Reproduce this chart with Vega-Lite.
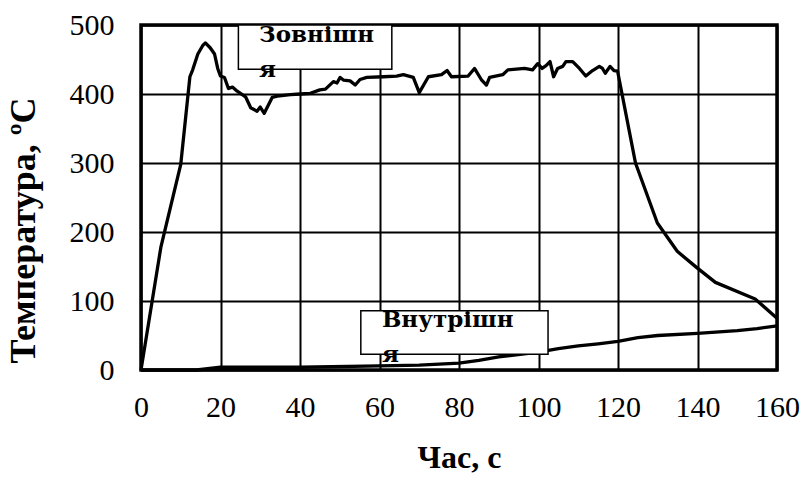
{
  "$schema": "https://vega.github.io/schema/vega-lite/v6.json",
  "width": 636,
  "height": 345,
  "autosize": {"type": "none"},
  "padding": {"left": 141, "top": 25, "right": 26, "bottom": 120},
  "background": "white",
  "config": {
    "font": "Liberation Serif, DejaVu Serif",
    "view": {"stroke": "black", "strokeWidth": 3.5},
    "axis": {
      "labelFont": "Liberation Serif, DejaVu Serif",
      "labelFontSize": 30,
      "labelColor": "black",
      "titleFont": "Liberation Serif, DejaVu Serif",
      "titleFontSize": 32,
      "titleFontWeight": "bold",
      "titleColor": "black",
      "ticks": false,
      "domain": false,
      "grid": true,
      "gridColor": "black",
      "gridWidth": 2,
      "gridOpacity": 1,
      "labelFlush": false,
      "labelOverlap": false
    }
  },
  "datasets": {
    "temps": [
      {"series": "Зовнішня", "t": 0, "v": 0},
      {"series": "Зовнішня", "t": 5, "v": 178},
      {"series": "Зовнішня", "t": 10, "v": 298},
      {"series": "Зовнішня", "t": 12.3, "v": 425},
      {"series": "Зовнішня", "t": 13, "v": 435},
      {"series": "Зовнішня", "t": 14.3, "v": 458},
      {"series": "Зовнішня", "t": 15.5, "v": 470},
      {"series": "Зовнішня", "t": 16.2, "v": 474},
      {"series": "Зовнішня", "t": 17.4, "v": 467},
      {"series": "Зовнішня", "t": 18.5, "v": 458},
      {"series": "Зовнішня", "t": 19.3, "v": 437},
      {"series": "Зовнішня", "t": 20, "v": 426},
      {"series": "Зовнішня", "t": 21, "v": 424},
      {"series": "Зовнішня", "t": 22, "v": 408},
      {"series": "Зовнішня", "t": 23, "v": 410},
      {"series": "Зовнішня", "t": 24.2, "v": 404},
      {"series": "Зовнішня", "t": 26.3, "v": 396},
      {"series": "Зовнішня", "t": 27.6, "v": 380},
      {"series": "Зовнішня", "t": 29.2, "v": 375},
      {"series": "Зовнішня", "t": 30, "v": 381},
      {"series": "Зовнішня", "t": 31, "v": 372},
      {"series": "Зовнішня", "t": 33, "v": 395},
      {"series": "Зовнішня", "t": 34.3, "v": 397},
      {"series": "Зовнішня", "t": 37.6, "v": 399},
      {"series": "Зовнішня", "t": 40, "v": 400},
      {"series": "Зовнішня", "t": 42.6, "v": 401},
      {"series": "Зовнішня", "t": 45, "v": 406},
      {"series": "Зовнішня", "t": 46.4, "v": 407},
      {"series": "Зовнішня", "t": 48.4, "v": 418},
      {"series": "Зовнішня", "t": 49.3, "v": 416},
      {"series": "Зовнішня", "t": 50.1, "v": 424},
      {"series": "Зовнішня", "t": 51, "v": 420},
      {"series": "Зовнішня", "t": 52.6, "v": 419},
      {"series": "Зовнішня", "t": 53.9, "v": 413},
      {"series": "Зовнішня", "t": 55.1, "v": 421},
      {"series": "Зовнішня", "t": 56.8, "v": 424},
      {"series": "Зовнішня", "t": 61, "v": 425},
      {"series": "Зовнішня", "t": 64.3, "v": 426},
      {"series": "Зовнішня", "t": 66, "v": 428},
      {"series": "Зовнішня", "t": 68.5, "v": 424},
      {"series": "Зовнішня", "t": 70, "v": 402},
      {"series": "Зовнішня", "t": 72.3, "v": 425},
      {"series": "Зовнішня", "t": 75.6, "v": 428},
      {"series": "Зовнішня", "t": 77, "v": 434},
      {"series": "Зовнішня", "t": 78.1, "v": 425},
      {"series": "Зовнішня", "t": 82.3, "v": 426},
      {"series": "Зовнішня", "t": 83.9, "v": 437},
      {"series": "Зовнішня", "t": 85.6, "v": 421},
      {"series": "Зовнішня", "t": 86.9, "v": 413},
      {"series": "Зовнішня", "t": 87.7, "v": 424},
      {"series": "Зовнішня", "t": 91, "v": 428},
      {"series": "Зовнішня", "t": 92.3, "v": 435},
      {"series": "Зовнішня", "t": 94.4, "v": 436},
      {"series": "Зовнішня", "t": 96.5, "v": 437},
      {"series": "Зовнішня", "t": 98.5, "v": 435},
      {"series": "Зовнішня", "t": 99.8, "v": 444},
      {"series": "Зовнішня", "t": 100.9, "v": 437},
      {"series": "Зовнішня", "t": 101.9, "v": 441},
      {"series": "Зовнішня", "t": 102.9, "v": 447},
      {"series": "Зовнішня", "t": 103.8, "v": 425},
      {"series": "Зовнішня", "t": 104.8, "v": 437},
      {"series": "Зовнішня", "t": 106.1, "v": 440},
      {"series": "Зовнішня", "t": 106.9, "v": 447},
      {"series": "Зовнішня", "t": 108.6, "v": 447},
      {"series": "Зовнішня", "t": 110.3, "v": 437},
      {"series": "Зовнішня", "t": 111.9, "v": 426},
      {"series": "Зовнішня", "t": 113.6, "v": 434},
      {"series": "Зовнішня", "t": 115.3, "v": 440},
      {"series": "Зовнішня", "t": 116.1, "v": 437},
      {"series": "Зовнішня", "t": 116.8, "v": 430},
      {"series": "Зовнішня", "t": 118, "v": 440},
      {"series": "Зовнішня", "t": 119, "v": 434},
      {"series": "Зовнішня", "t": 119.9, "v": 433},
      {"series": "Зовнішня", "t": 124.4, "v": 300},
      {"series": "Зовнішня", "t": 129.9, "v": 213},
      {"series": "Зовнішня", "t": 134.9, "v": 172},
      {"series": "Зовнішня", "t": 139.9, "v": 148},
      {"series": "Зовнішня", "t": 144.5, "v": 127},
      {"series": "Зовнішня", "t": 154.5, "v": 103},
      {"series": "Зовнішня", "t": 160, "v": 75},
      {"series": "Внутрішня", "t": 0, "v": 0},
      {"series": "Внутрішня", "t": 14, "v": 0},
      {"series": "Внутрішня", "t": 20, "v": 4},
      {"series": "Внутрішня", "t": 40, "v": 4},
      {"series": "Внутрішня", "t": 60, "v": 6},
      {"series": "Внутрішня", "t": 70, "v": 7},
      {"series": "Внутрішня", "t": 80, "v": 10},
      {"series": "Внутрішня", "t": 85, "v": 14},
      {"series": "Внутрішня", "t": 90, "v": 19},
      {"series": "Внутрішня", "t": 100, "v": 26},
      {"series": "Внутрішня", "t": 105, "v": 31},
      {"series": "Внутрішня", "t": 110, "v": 35},
      {"series": "Внутрішня", "t": 115, "v": 38},
      {"series": "Внутрішня", "t": 120, "v": 41.5},
      {"series": "Внутрішня", "t": 125, "v": 47},
      {"series": "Внутрішня", "t": 130, "v": 50},
      {"series": "Внутрішня", "t": 140, "v": 53},
      {"series": "Внутрішня", "t": 150, "v": 57},
      {"series": "Внутрішня", "t": 155, "v": 60},
      {"series": "Внутрішня", "t": 160, "v": 64}
    ],
    "labels": [
      {"label": "Зовнішн\nя", "t0": 24.5, "t1": 63.1, "v0": 500, "v1": 436, "tx": 29.7, "vy": 476},
      {"label": "Внутрішн\nя", "t0": 55.3, "t1": 102.4, "v0": 86, "v1": 23, "tx": 60.6, "vy": 63}
    ]
  },
  "layer": [
    {
      "data": {"name": "temps"},
      "mark": {"type": "line", "color": "black", "strokeWidth": 3.3, "strokeJoin": "round"},
      "encoding": {
        "x": {
          "field": "t", "type": "quantitative",
          "scale": {"domain": [0, 160], "nice": false, "zero": false},
          "axis": {"title": "Час, с", "values": [0, 20, 40, 60, 80, 100, 120, 140, 160], "labelPadding": 22, "titlePadding": 20}
        },
        "y": {
          "field": "v", "type": "quantitative",
          "scale": {"domain": [0, 500], "nice": false},
          "axis": {"title": "Температура, ºC", "values": [0, 100, 200, 300, 400, 500], "labelPadding": 27, "titlePadding": 27, "titleFontSize": 36, "titleY": 205}
        },
        "detail": {"field": "series"}
      }
    },
    {
      "data": {"name": "labels"},
      "mark": {"type": "rect", "fill": "white", "stroke": "black", "strokeWidth": 1.5},
      "encoding": {
        "x": {"field": "t0", "type": "quantitative"},
        "x2": {"field": "t1"},
        "y": {"field": "v0", "type": "quantitative"},
        "y2": {"field": "v1"}
      }
    },
    {
      "data": {"name": "labels"},
      "mark": {"type": "text", "align": "left", "baseline": "alphabetic", "font": "DejaVu Serif", "fontWeight": "bold", "fontSize": 23, "lineBreak": "\n", "lineHeight": 35, "color": "black"},
      "encoding": {
        "x": {"field": "tx", "type": "quantitative"},
        "y": {"field": "vy", "type": "quantitative"},
        "text": {"field": "label"}
      }
    }
  ]
}
